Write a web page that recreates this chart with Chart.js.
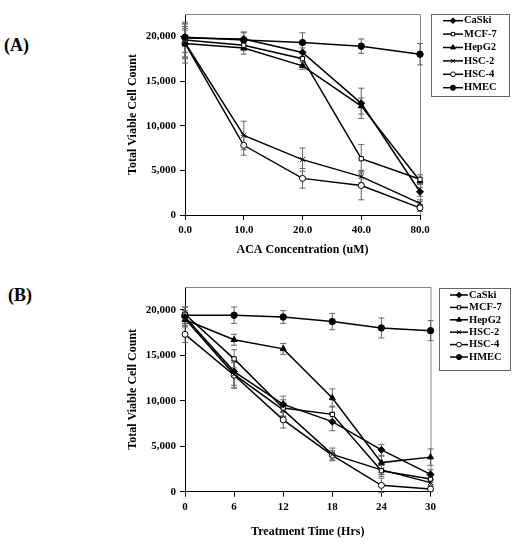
<!DOCTYPE html>
<html>
<head>
<meta charset="utf-8">
<script src="https://cdn.jsdelivr.net/npm/chart.js@4.4.0/dist/chart.umd.min.js"></script>
<style>
  body { margin: 0; background: #fff; width: 522px; height: 550px; position: relative; overflow: hidden; }
  .panel { position: absolute; left: 0; width: 522px; }
  .tag { position: absolute; font: bold 18px "Liberation Serif", "Times New Roman", serif; line-height: 18px; color: #000; }
</style>
</head>
<body>
<div class="tag" style="left:4px; top:36px">(A)</div>
<div class="tag" style="left:8px; top:286px">(B)</div>
<div class="panel" style="top:0; height:270px"><canvas id="chartA"></canvas></div>
<div class="panel" style="top:270px; height:280px"><canvas id="chartB"></canvas></div>
<script>
// series names, same for both panels
var cellLines = ['CaSki', 'MCF-7', 'HepG2', 'HSC-2', 'HSC-4', 'HMEC'];

// (A) dose response
var doseLabels = ['0.0', '10.0', '20.0', '40.0', '80.0'];
var caskiDose  = [19800, 19700, 18200, 12500, 2600];
var mcf7Dose   = [19600, 19000, 17500, 6300, 4000];
var hepg2Dose  = [19200, 18700, 16700, 12200, 3800];
var hsc2Dose   = [19300, 8900, 6200, 4300, 1300];
var hsc4Dose   = [19200, 7800, 4100, 3300, 800];
var hmecDose   = [19900, 19600, 19300, 18900, 18000];
var caskiDoseErr = [1600, 700, 500, 1700, 500];
var mcf7DoseErr  = [2000, 600, 700, 1600, 500];
var hepg2DoseErr = [1500, 700, 400, 900, 400];
var hsc2DoseErr  = [1800, 1600, 1300, 700, 400];
var hsc4DoseErr  = [2200, 1100, 1100, 1600, 400];
var hmecDoseErr  = [1000, 900, 1100, 800, 1200];

// (B) time course
var timeLabels = ['0', '6', '12', '18', '24', '30'];
var caskiTime  = [19200, 13200, 9600, 7700, 4600, 1900];
var mcf7Time   = [19500, 14600, 9200, 8500, 2300, 1400];
var hepg2Time  = [18900, 16700, 15700, 10300, 3200, 3800];
var hsc2Time   = [19000, 12900, 9000, 4100, 2400, 1000];
var hsc4Time   = [17300, 12800, 7900, 4000, 700, 300];
var hmecTime   = [19400, 19400, 19200, 18700, 18000, 17700];
var caskiTimeErr = [700, 1500, 900, 1000, 600, 500];
var mcf7TimeErr  = [800, 1000, 900, 900, 600, 400];
var hepg2TimeErr = [600, 600, 600, 1000, 700, 900];
var hsc2TimeErr  = [900, 1500, 700, 700, 500, 300];
var hsc4TimeErr  = [900, 1400, 900, 500, 800, 300];
var hmecTimeErr  = [900, 900, 700, 900, 1100, 1100];

var yTicks = [0, 5000, 10000, 15000, 20000];
var yMax = 22500;

var serif = '"Liberation Serif", "Times New Roman", serif';
Chart.defaults.font.family = serif;
Chart.defaults.color = '#000';

var markers = [
  { pointStyle: 'rectRot', fill: '#000', radius: 3.5 },
  { pointStyle: 'rect', fill: '#fff', radius: 3 },
  { pointStyle: 'triangle', fill: '#000', radius: 3.5 },
  { pointStyle: 'crossRot', fill: '#000', radius: 3.5 },
  { pointStyle: 'circle', fill: '#fff', radius: 3 },
  { pointStyle: 'circle', fill: '#000', radius: 3.2 }
];

function makeDatasets(values, errors) {
  return values.map(function (v, i) {
    return {
      label: cellLines[i],
      data: v,
      errors: errors[i],
      borderColor: '#000',
      borderWidth: 1.5,
      pointStyle: markers[i].pointStyle,
      pointRadius: markers[i].radius,
      pointBackgroundColor: markers[i].fill,
      pointBorderColor: '#000',
      pointBorderWidth: 1,
      tension: 0,
      clip: false
    };
  });
}

var errorBars = {
  id: 'errorBars',
  beforeDatasetsDraw: function (chart) {
    var ctx = chart.ctx, y = chart.scales.y;
    ctx.save();
    ctx.strokeStyle = '#666';
    ctx.lineWidth = 1;
    chart.data.datasets.forEach(function (ds, i) {
      chart.getDatasetMeta(i).data.forEach(function (pt, j) {
        var top = y.getPixelForValue(ds.data[j] + ds.errors[j]);
        var bot = y.getPixelForValue(ds.data[j] - ds.errors[j]);
        ctx.beginPath();
        ctx.moveTo(pt.x, top); ctx.lineTo(pt.x, bot);
        ctx.moveTo(pt.x - 3, top); ctx.lineTo(pt.x + 3, top);
        ctx.moveTo(pt.x - 3, bot); ctx.lineTo(pt.x + 3, bot);
        ctx.stroke();
      });
    });
    ctx.restore();
  }
};

var frame = {
  id: 'frame',
  beforeDatasetsDraw: function (chart) {
    var ctx = chart.ctx, a = chart.chartArea;
    ctx.save();
    ctx.strokeStyle = '#888';
    ctx.lineWidth = 1;
    ctx.beginPath();
    ctx.moveTo(a.left, a.top + 0.5);
    ctx.lineTo(a.right + 0.5, a.top + 0.5);
    ctx.lineTo(a.right + 0.5, a.bottom);
    ctx.stroke();
    ctx.restore();
  }
};

var boxLegend = {
  id: 'boxLegend',
  afterDraw: function (chart, args, o) {
    var ctx = chart.ctx;
    ctx.save();
    ctx.strokeStyle = '#666';
    ctx.lineWidth = 1;
    ctx.strokeRect(o.x + 0.5, o.y + 0.5, o.w, o.h);
    ctx.font = 'bold 10.5px ' + serif;
    ctx.textBaseline = 'middle';
    chart.data.datasets.forEach(function (ds, i) {
      var yy = o.y + o.first + i * o.row;
      var x0 = o.x + o.lineStart, x1 = x0 + o.lineLen;
      ctx.strokeStyle = '#000';
      ctx.lineWidth = 1.5;
      ctx.beginPath(); ctx.moveTo(x0, yy); ctx.lineTo(x1, yy); ctx.stroke();
      ctx.lineWidth = 1;
      ctx.fillStyle = ds.pointBackgroundColor;
      Chart.helpers.drawPoint(ctx, { pointStyle: ds.pointStyle, radius: ds.pointRadius * 0.8, borderWidth: 1, rotation: 0 }, (x0 + x1) / 2, yy);
      ctx.fillStyle = '#000';
      ctx.fillText(ds.label, x1 + 1, yy);
    });
    ctx.restore();
  }
};

function drawPanel(id, labels, datasets, g) {
  return new Chart(document.getElementById(id), {
    type: 'line',
    data: { labels: labels, datasets: datasets },
    options: {
      responsive: true,
      maintainAspectRatio: false,
      animation: false,
      layout: { padding: { left: 0, top: g.top, right: 522 - g.right, bottom: 0 } },
      plugins: {
        legend: { display: false },
        tooltip: { enabled: false },
        boxLegend: g.legend
      },
      scales: {
        x: {
          type: 'category',
          offset: false,
          afterFit: function (s) { s.height = g.height - g.bottom; },
          grid: { display: true, drawOnChartArea: false, drawTicks: true, tickLength: 5, color: '#000', offset: false },
          border: { display: true, color: '#000', width: 1 },
          ticks: { padding: 4, autoSkip: false, maxRotation: 0, font: { size: 11, weight: 'bold' } },
          title: { display: true, text: g.xTitle, font: { size: 12, weight: 'bold' }, padding: { top: 0, bottom: g.xTitlePad } }
        },
        y: {
          min: 0,
          max: yMax,
          afterFit: function (s) { s.width = 185; },
          afterBuildTicks: function (s) { s.ticks = yTicks.map(function (v) { return { value: v }; }); },
          grid: { display: true, drawOnChartArea: false, drawTicks: true, tickLength: 5, color: '#000' },
          border: { display: true, color: '#000', width: 1 },
          ticks: {
            padding: 4,
            font: { size: 11, weight: 'bold' },
            callback: function (v) { return Number(v).toLocaleString('en-US'); }
          },
          title: { display: true, text: 'Total Viable Cell Count', font: { size: 12, weight: 'bold' }, padding: { top: 125.5, bottom: 0 } }
        }
      }
    },
    plugins: [frame, errorBars, boxLegend]
  });
}

drawPanel('chartA', doseLabels,
  makeDatasets([caskiDose, mcf7Dose, hepg2Dose, hsc2Dose, hsc4Dose, hmecDose],
               [caskiDoseErr, mcf7DoseErr, hepg2DoseErr, hsc2DoseErr, hsc4DoseErr, hmecDoseErr]),
  { height: 270, top: 14, bottom: 215, right: 420, xTitle: 'ACA Concentration (uM)', xTitlePad: 12.8,
    legend: { x: 431, y: 14, w: 78, h: 82, first: 6.7, row: 13.4, lineStart: 12, lineLen: 20 } });

drawPanel('chartB', timeLabels,
  makeDatasets([caskiTime, mcf7Time, hepg2Time, hsc2Time, hsc4Time, hmecTime],
               [caskiTimeErr, mcf7TimeErr, hepg2TimeErr, hsc2TimeErr, hsc4TimeErr, hmecTimeErr]),
  { height: 280, top: 17, bottom: 221.7, right: 430.5, xTitle: 'Treatment Time (Hrs)', xTitlePad: 11.1,
    legend: { x: 439, y: 18, w: 71, h: 82, first: 7, row: 12.4, lineStart: 11, lineLen: 18 } });
</script>
</body>
</html>
